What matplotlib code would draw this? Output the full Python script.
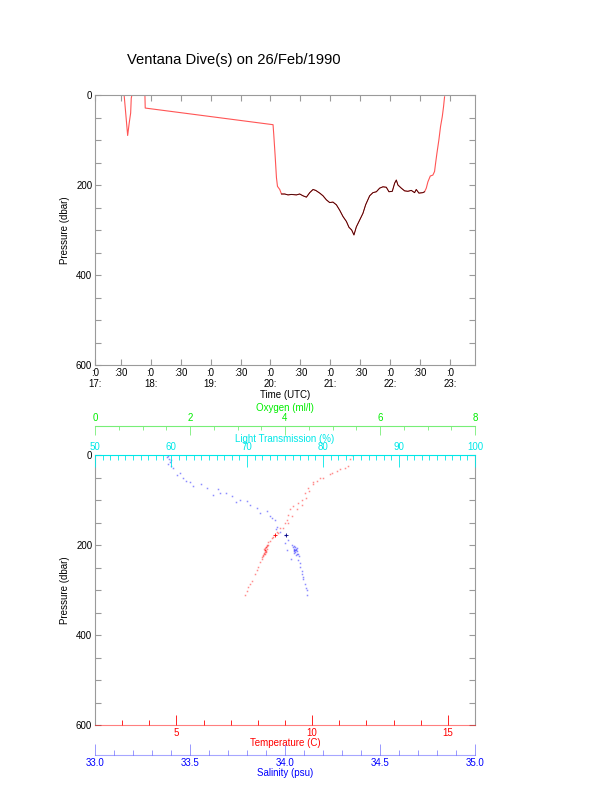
import matplotlib
matplotlib.use("Agg")
import matplotlib.pyplot as plt
from matplotlib.ticker import MultipleLocator, FixedLocator
import numpy as np

plt.rcParams['font.family'] = ['Liberation Sans', 'DejaVu Sans']

# --- top panel: vehicle pressure vs time (decimal hours UTC) ---
dive_time = [17.56, 17.617, 17.643, 17.667, 17.677, 17.688, 17.888, 17.905, 17.91,
             20.043, 20.055, 20.077, 20.10, 20.117, 20.155, 20.183, 20.238, 20.293,
             20.35, 20.433, 20.488, 20.543, 20.60, 20.655, 20.71, 20.755, 20.822,
             20.877, 20.933, 20.988, 21.043, 21.10, 21.155, 21.21, 21.267, 21.31,
             21.355, 21.393, 21.433, 21.488, 21.543, 21.588, 21.655, 21.71, 21.767,
             21.822, 21.877, 21.933, 21.977, 22.033, 22.072, 22.10, 22.127, 22.183,
             22.238, 22.293, 22.35, 22.405, 22.433, 22.477, 22.543, 22.572, 22.60,
             22.627, 22.667, 22.71, 22.738, 22.755, 22.777, 22.81, 22.838, 22.867,
             22.888, 22.905]
dive_pres = [3, 90, 62, 40, 7, 0, 0, 0, 29,
             66, 88, 133, 184, 203, 210, 220, 220, 222,
             221, 222, 220, 224, 227, 217, 210, 212, 218,
             224, 233, 239, 238, 244, 256, 270, 281, 294,
             300, 311, 293, 278, 263, 244, 224, 217, 215,
             207, 204, 205, 215, 214, 196, 189, 200, 207,
             213, 214, 212, 217, 210, 218, 217, 215, 207,
             193, 180, 178, 170, 152, 130, 100, 70, 48,
             26, 4]
ctd_start, ctd_end = 20.18, 22.58   # span where the dark trace overlays

# --- bottom panel: profiles ---
temp_pres = [0, 9, 24, 28, 35, 43, 50, 58, 61, 73, 84, 99, 106, 114, 121, 133, 144,
             151, 162, 170, 178, 185, 193, 204, 211, 222, 237, 249, 264, 279, 294, 312,
             31, 40, 52, 65, 80, 95, 110, 121, 136, 151, 162, 174, 183, 190,
             200, 203, 206, 209, 212, 215, 218, 220, 224, 208, 213,
             201, 205, 210, 216, 219, 226, 230, 256, 287, 303]
temp_vals = [11.46, 11.40, 11.33, 11.21, 10.90, 10.66, 10.41, 10.17, 10.04, 9.86, 9.74,
             9.62, 9.49, 9.31, 9.19, 9.12, 9.06, 9.00, 8.82, 8.70, 8.63, 8.51, 8.39,
             8.30, 8.26, 8.20, 8.08, 8.02, 7.90, 7.77, 7.65, 7.53,
             11.03, 10.72, 10.29, 10.04, 9.90, 9.77, 9.62, 9.43, 9.25, 9.12, 8.94,
             8.75, 8.57, 8.45,
             8.32, 8.35, 8.28, 8.33, 8.25, 8.30, 8.22, 8.27, 8.19, 8.24, 8.29,
             8.36, 8.31, 8.27, 8.26, 8.24, 8.17, 8.14, 7.96, 7.71, 7.60]
sal_pres = [1.5, 16, 28, 39, 50, 61, 69, 65, 73, 76, 84, 84, 91, 99, 103, 110, 118,
            129, 125, 136, 144, 159, 170, 178, 189, 200, 211, 219, 234, 249, 264, 275,
            286, 301, 310,
            4, 8, 12, 20, 25, 45, 58, 88, 105, 140, 165,
            202, 205, 208, 210, 213, 216, 219, 222, 212, 207, 204, 225,
            211, 195, 230, 240, 214, 218, 209, 258, 270, 295]
sal_vals = [33.386, 33.395, 33.41, 33.447, 33.465, 33.50, 33.517, 33.56, 33.588,
            33.649, 33.658, 33.69, 33.719, 33.763, 33.798, 33.816, 33.851, 33.868,
            33.904, 33.921, 33.947, 33.956, 33.974, 34.00, 34.017, 34.035, 34.053,
            34.061, 34.07, 34.079, 34.088, 34.096, 34.105, 34.114, 34.117,
            33.38, 33.39, 33.40, 33.385, 33.40, 33.43, 33.48, 33.62, 33.74, 33.93,
            33.95,
            34.045, 34.055, 34.05, 34.06, 34.065, 34.055, 34.07, 34.06, 34.05,
            34.065, 34.04, 34.075,
            34.01, 34.0, 34.03, 34.08, 34.045, 34.05, 34.06, 34.09, 34.095, 34.11]
mark_temp, mark_sal, mark_pres = 8.63, 34.005, 177

GRAY = '#9a9a9a'
RED, GREEN, CYAN, BLUE = '#ff0000', '#00ee00', '#00e8e8', '#0000ff'
FS = 7

W, H = 612, 785
fig = plt.figure(figsize=(W / 100, H / 100), dpi=100)


def box(l, t, r, b):
    return [l / W, 1 - b / H, (r - l) / W, (b - t) / H]


def px(n):
    return n * 72 / 100.


fig.text(234 / W, 1 - 60 / H, "Ventana Dive(s) on 26/Feb/1990", fontsize=10.6,
         ha='center', va='center')

# ---------------- top panel ----------------
ax1 = fig.add_axes(box(95, 95, 475, 365))
t = np.array(dive_time)
p = np.array(dive_pres)
ax1.plot(t, p, color='#ff5555', lw=0.8)
m = (t >= ctd_start) & (t <= ctd_end)
ax1.plot(t[m], p[m], color='#300000', lw=0.6)
x0, x1 = 17.072, 23.413
ax1.set_xlim(x0, x1)
ax1.set_ylim(600, 0)
for s in ax1.spines.values():
    s.set_color(GRAY)
    s.set_linewidth(0.8)
ticks = [x0] + [h / 2 for h in range(35, 47)]
labels = [":0\n17:"]
for h2 in range(35, 47):
    hh = h2 / 2
    labels.append(":30" if h2 % 2 else ":0\n%d:" % int(hh))
ax1.xaxis.set_major_locator(FixedLocator(ticks))
ax1.set_xticklabels(labels, fontsize=FS, linespacing=1.15)
ax1.set_yticks([0, 200, 400, 600])
ax1.set_yticklabels(['0', '200', '400', '600'], fontsize=FS)
ax1.yaxis.set_minor_locator(MultipleLocator(50))
ax1.tick_params(which='both', direction='in', top=True, right=True,
                color=GRAY, length=px(6), width=0.8, pad=2)
ax1.set_xlabel("Time (UTC)", fontsize=FS, labelpad=1)
ax1.set_ylabel("Pressure (dbar)", fontsize=FS, labelpad=4)

# ---------------- bottom panel ----------------
ax2 = fig.add_axes(box(95, 455, 475, 725))
ax2.set_xlim(2, 16)
ax2.set_ylim(600, 0)
ax2.spines['left'].set_color(GRAY)
ax2.spines['right'].set_color(GRAY)
ax2.spines['top'].set_visible(False)
ax2.spines['bottom'].set_color(RED)
ax2.spines['bottom'].set_alpha(0.5)
ax2.xaxis.set_major_locator(FixedLocator([5, 10, 15]))
ax2.xaxis.set_minor_locator(MultipleLocator(1))
ax2.tick_params(axis='x', which='major', direction='in', length=px(10),
                color=RED, labelcolor=RED, labelsize=FS, width=0.6, pad=2)
ax2.tick_params(axis='x', which='minor', direction='in', length=px(5),
                color=RED, width=0.6)
ax2.set_yticks([0, 200, 400, 600])
ax2.set_yticklabels(['0', '200', '400', '600'], fontsize=FS)
ax2.yaxis.set_minor_locator(MultipleLocator(50))
ax2.tick_params(axis='y', which='both', direction='in', right=True,
                color=GRAY, length=px(6), width=0.8, pad=2)
ax2.set_xlabel("Temperature (C)", fontsize=FS, color=RED, labelpad=0)
ax2.set_ylabel("Pressure (dbar)", fontsize=FS, labelpad=4)
ax2.plot(temp_vals, temp_pres, 's', color=RED, ms=1.1, mew=0, alpha=0.45)
ax2.plot([mark_temp], [mark_pres], '+', color=RED, ms=3.5, mew=0.6)

# salinity axis below
ax_s = ax2.twiny()
ax_s.set_xlim(33, 35)
ax_s.xaxis.set_ticks_position('bottom')
ax_s.xaxis.set_label_position('bottom')
for k in ('top', 'left', 'right'):
    ax_s.spines[k].set_visible(False)
ax_s.spines['bottom'].set_position(('outward', px(30)))
ax_s.spines['bottom'].set_color(BLUE)
ax_s.spines['bottom'].set_alpha(0.35)
ax_s.xaxis.set_major_locator(MultipleLocator(0.5))
ax_s.xaxis.set_minor_locator(MultipleLocator(0.1))
ax_s.xaxis.set_major_formatter(plt.FormatStrFormatter('%.1f'))
ax_s.tick_params(axis='x', which='major', direction='in', length=px(11),
                 color='#8888ff', labelcolor=BLUE, labelsize=FS, width=0.6, pad=2)
ax_s.tick_params(axis='x', which='minor', direction='in', length=px(5),
                 color='#8888ff', width=0.6)
ax_s.set_xlabel("Salinity (psu)", fontsize=FS, color=BLUE, labelpad=0)
ax_s.plot(sal_vals, sal_pres, 's', color=BLUE, ms=1.1, mew=0, alpha=0.45)
ax_s.plot([mark_sal], [mark_pres], '+', color='#000080', ms=3.5, mew=0.6)

# light transmission axis on top of the box
ax_l = ax2.twiny()
ax_l.set_xlim(50, 100)
for k in ('bottom', 'left', 'right'):
    ax_l.spines[k].set_visible(False)
ax_l.spines['top'].set_color(CYAN)
ax_l.xaxis.set_major_locator(MultipleLocator(10))
ax_l.xaxis.set_minor_locator(MultipleLocator(1))
ax_l.tick_params(axis='x', which='major', direction='in', length=px(12),
                 color=CYAN, labelcolor=CYAN, labelsize=FS, width=0.6, pad=2)
ax_l.tick_params(axis='x', which='minor', direction='in', length=px(4.5),
                 color=CYAN, width=0.6)
ax_l.set_xlabel("Light Transmission (%)", fontsize=FS, color=CYAN, labelpad=0.5)

# oxygen axis above
ax_o = ax2.twiny()
ax_o.set_xlim(0, 8)
for k in ('bottom', 'left', 'right'):
    ax_o.spines[k].set_visible(False)
ax_o.spines['top'].set_position(('outward', px(29.5)))
ax_o.spines['top'].set_color('#77ee77')
ax_o.xaxis.set_major_locator(MultipleLocator(2))
ax_o.xaxis.set_minor_locator(MultipleLocator(0.5))
ax_o.tick_params(axis='x', which='major', direction='in', length=px(9),
                 color='#77ee77', labelcolor=GREEN, labelsize=FS, width=0.6, pad=2)
ax_o.tick_params(axis='x', which='minor', direction='in', length=px(4),
                 color='#77ee77', width=0.6)
ax_o.set_xlabel("Oxygen (ml/l)", fontsize=FS, color=GREEN, labelpad=1)

fig.savefig("out.png", dpi=100)
